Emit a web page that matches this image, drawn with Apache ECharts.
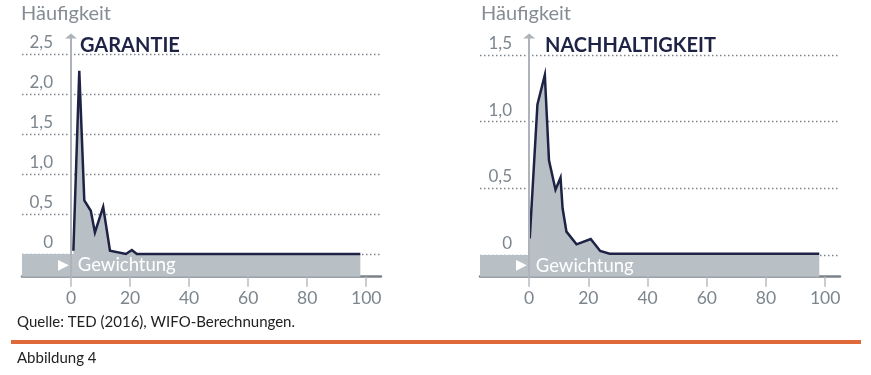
<!DOCTYPE html>
<html><head><meta charset="utf-8">
<script src="https://cdn.jsdelivr.net/npm/echarts@6/dist/echarts.min.js"></script>
<style>html,body{margin:0;padding:0;background:#fff;}#c{width:871px;height:375px;}</style>
</head><body><div id="c"></div>
<script>
// ---- data ----
const xTicks = [0, 20, 40, 60, 80, 100];
const garantieYTicks = [0, 0.5, 1.0, 1.5, 2.0, 2.5];
const nachhaltigYTicks = [0, 0.5, 1.0, 1.5];
const garantieX = [0.8, 2.8, 4.5, 6.7, 8.1, 10.9, 13.2, 18.6, 20.6, 22.3, 98];
const garantieY = [0.04, 2.29, 0.67, 0.54, 0.27, 0.59, 0.04, 0.0, 0.05, 0.0, 0.0];
const nachhaltigX = [0.2, 2.8, 5.3, 6.7, 8.9, 10.6, 11.3, 12.6, 16, 20.8, 24, 27.2, 98];
const nachhaltigY = [0.125, 1.13, 1.35, 0.71, 0.49, 0.58, 0.35, 0.175, 0.08, 0.12, 0.03, 0.01, 0.01];
const titles = ['GARANTIE', 'NACHHALTIGKEIT'];
const yName = 'Häufigkeit';
const bandLabel = 'Gewichtung';
const source = 'Quelle: TED (2016), WIFO-Berechnungen.';
const figure = 'Abbildung 4';

// ---- style ----
const FONT = 'Lato';
const NAVY = '#1e2346';
const GREY_TXT = '#7d858d';
const FILL = '#b8bfc5';
const X_MIN = -16.6, X_MAX = 105;
const yRanges = [[-0.284, 2.725], [-0.163, 1.643]];
const yLabelMargin = [-31, -32];

function pairs(xs, ys) { return xs.map((x, i) => [x, ys[i]]); }
const fmt = v => v === 0 ? '0' : v.toFixed(1).replace('.', ',');

const chart = echarts.init(document.getElementById('c'));
const datasets = [pairs(garantieX, garantieY), pairs(nachhaltigX, nachhaltigY)];
const yTickSets = [garantieYTicks, nachhaltigYTicks];
const lastX = [garantieX[garantieX.length - 1], nachhaltigX[nachhaltigX.length - 1]];

const nameStyle = {color: '#858c93', fontSize: 20, fontWeight: 'normal', fontFamily: FONT};
const headStyle = {color: NAVY, fontSize: 20, fontWeight: 'bold', fontFamily: FONT};
const noteStyle = {color: '#222', fontSize: 15, fontWeight: 'normal', fontFamily: FONT};

const option = {
  animation: false,
  title: [
    {text: yName, left: 21, top: 4, padding: 0, textStyle: nameStyle},
    {text: yName, left: 481, top: 4, padding: 0, textStyle: nameStyle},
    {text: titles[0], left: 80, top: 36, padding: 0, textStyle: headStyle},
    {text: titles[1], left: 545, top: 36, padding: 0, textStyle: headStyle},
    {text: source, left: 17, top: 315, padding: 0, textStyle: noteStyle},
    {text: figure, left: 17, top: 351, padding: 0, textStyle: noteStyle}
  ],
  graphic: [{type: 'rect', left: 11, top: 340, shape: {width: 850, height: 4}, style: {fill: '#e0693a'}}],
  grid: [
    {left: 22, top: 36, width: 359, bottom: 98.3, outerBoundsMode: 'none', containLabel: false},
    {left: 480, top: 36, width: 360, bottom: 98.3, outerBoundsMode: 'none', containLabel: false}
  ],
  xAxis: [0, 1].map(i => ({
    type: 'value', gridIndex: i, min: X_MIN, max: X_MAX,
    axisLine: {show: true, onZero: false, lineStyle: {color: '#7b828a', width: 2.5}},
    axisTick: {show: true, customValues: xTicks, length: 10, lineStyle: {color: '#b7bdc2', width: 1.5}},
    axisLabel: {customValues: xTicks, color: GREY_TXT, fontSize: 17.5, margin: 13, fontFamily: FONT},
    splitLine: {show: false}
  })),
  yAxis: [0, 1].map(i => ({
    type: 'value', gridIndex: i, min: yRanges[i][0], max: yRanges[i][1], z: 5,
    axisLine: {show: true, onZero: true, symbol: ['none', 'triangle'], symbolSize: [12, 5], lineStyle: {color: '#adb3b9', width: 2}},
    axisTick: {show: false},
    axisLabel: {customValues: yTickSets[i], formatter: fmt, color: GREY_TXT, fontSize: 17, margin: yLabelMargin[i], verticalAlign: 'bottom', padding: [0, 0, 3, 0], fontFamily: FONT},
    splitLine: {show: false}
  })),
  series: [0, 1].map(i => ({
    type: 'line', xAxisIndex: i, yAxisIndex: i, data: datasets[i], symbol: 'none', silent: true, z: 3,
    lineStyle: {color: NAVY, width: 2.5, join: 'miter'},
    areaStyle: {color: FILL, opacity: 1},
    markLine: {
      silent: true, symbol: ['none', 'none'], z: 1, label: {show: false},
      lineStyle: {type: [1.5, 2.5], color: '#7e858c', width: 1.3},
      data: yTickSets[i].map(v => ({yAxis: v}))
    },
    markArea: {
      silent: true, z: 2,
      itemStyle: {color: FILL},
      label: {
        show: true, position: 'insideLeft', distance: 36,
        formatter: '{t|▶}{g|' + bandLabel + '}',
        rich: {
          t: {fontFamily: 'DejaVu Sans', fontSize: 14, color: '#fff', padding: [0, 9, 0, 0]},
          g: {fontFamily: FONT, fontSize: 18.5, color: '#fff'}
        }
      },
      data: [[{xAxis: X_MIN, yAxis: 0}, {xAxis: lastX[i], yAxis: yRanges[i][0]}]]
    }
  }))
};
chart.setOption(option);
</script>
</body></html>
